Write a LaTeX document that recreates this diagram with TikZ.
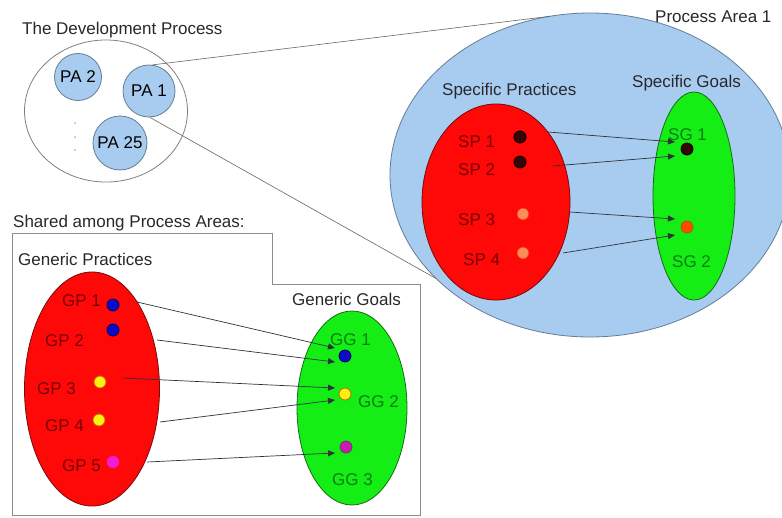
\documentclass[tikz,border=0pt]{standalone}
\usepackage{fontspec}
\setmainfont{Liberation Sans}
\usetikzlibrary{shapes.geometric,arrows.meta,calc}

\definecolor{areablue}{RGB}{168,204,240}
\definecolor{areaedge}{RGB}{100,125,150}
\definecolor{practred}{RGB}{255,8,8}
\definecolor{practedge}{RGB}{120,10,10}
\definecolor{goalgreen}{RGB}{20,238,20}
\definecolor{goaledge}{RGB}{20,110,20}
\definecolor{labred}{RGB}{120,0,0}
\definecolor{labgreen}{RGB}{10,125,20}
\definecolor{titlegray}{RGB}{40,40,45}
\definecolor{framegray}{RGB}{140,140,140}
\definecolor{linkgray}{RGB}{45,50,62}
\definecolor{dotblue}{RGB}{10,10,200}
\definecolor{dotyellow}{RGB}{250,240,20}
\definecolor{dotmagenta}{RGB}{240,30,210}
\definecolor{dotdark}{RGB}{55,5,5}
\definecolor{dotorange}{RGB}{255,140,90}

\begin{document}
\begin{tikzpicture}[x=1pt,y=-1pt,
  font=\fontsize{17}{20}\selectfont,
  title/.style={anchor=base west,inner sep=0pt,text=titlegray},
  redlab/.style={anchor=base west,inner sep=0pt,text=labred},
  greenlab/.style={anchor=base west,inner sep=0pt,text=labgreen},
  blob/.style={ellipse,inner sep=0pt,outer sep=0pt,line width=0.8pt},
  pacircle/.style={circle,inner sep=0pt,draw=areaedge,fill=areablue,line width=0.8pt},
  dot/.style={circle,minimum size=12pt,inner sep=0pt,line width=0.8pt},
  arr/.style={draw=linkgray,line width=0.7pt,-{Triangle[length=7pt,width=6pt]}},
  link/.style={draw=gray!80!black,line width=0.6pt}]
\useasboundingbox (0,0) rectangle (782,517);
\fill[white] (0,0) rectangle (782,517);

% ---- process area detail
\node[blob,draw=areaedge,fill=areablue,minimum width=400pt,minimum height=324pt] (pa) at (590,175) {};
\node[blob,draw=practedge,fill=practred,minimum width=148pt,minimum height=196pt] (sp) at (496,202) {};
\node[blob,draw=goaledge,fill=goalgreen,minimum width=82pt,minimum height=208pt] (sg) at (694,196) {};
\node[title] (tpa) at (655,22) {Process Area 1};
\node[title] (tsp) at (442,95) {Specific Practices};
\node[title] (tsg) at (632,87) {Specific Goals};

\node[dot,draw=black,fill=dotdark] (sp1) at (520,137) {};
\node[dot,draw=black,fill=dotdark] (sp2) at (520,162) {};
\node[dot,draw=practred!70!orange,fill=dotorange] (sp3) at (523,214) {};
\node[dot,draw=practred!70!orange,fill=dotorange] (sp4) at (523,253) {};
\node[dot,draw=black,fill=dotdark] (sg1) at (687,149) {};
\node[dot,draw=orange!70!black,fill=orange!60!red] (sg2) at (687,227) {};

\node[redlab] (lsp1) at (458,147) {SP 1};
\node[redlab] (lsp2) at (458,175) {SP 2};
\node[redlab] (lsp3) at (458,225) {SP 3};
\node[redlab] (lsp4) at (463,265) {SP 4};
\node[greenlab] (lsg1) at (668,140) {SG 1};
\node[greenlab] (lsg2) at (672,267) {SG 2};

\draw[arr] ($(sp1)+(28,-5)$) -- ($(sg1)+(-12,-7)$);
\draw[arr] ($(sp2)+(33,4)$) -- ($(sg1)+(-12,7)$);
\draw[arr] ($(sp3)+(47,-2)$) -- ($(sg2)+(-12,-8)$);
\draw[arr] ($(sp4)+(40,0)$) -- ($(sg2)+(-12,8)$);

% ---- the development process
\node[title] (tdev) at (22,34) {The Development Process};
\node[blob,draw=gray,fill=white,minimum width=163pt,minimum height=142pt] (dev) at (106,111) {};
\node[pacircle,minimum size=47pt] (pa2) at (78,77) {PA 2};
\node[pacircle,minimum size=52pt] (pa1) at (149,91) {PA 1};
\node[pacircle,minimum size=54pt] (pa25) at (120,143) {PA 25};
\foreach \yy in {123,137,150} \fill[gray!60] (75,\yy) circle (1pt);
\draw[link] (pa1.82) -- (pa.104);
\draw[link] (pa1.-88) -- (pa.214);

% ---- shared generic part
\node[title] (tshared) at (13,227) {Shared among Process Areas:};
\draw[framegray,line width=1pt] (12,233) -- (272,233) -- (272,284) -- (420,284) -- (420,515) -- (12,515) -- cycle;
\node[title] (tgp) at (18,265) {Generic Practices};
\node[title] (tgg) at (292,305) {Generic Goals};
\node[blob,draw=practedge,fill=practred,minimum width=135pt,minimum height=234pt] (gp) at (92,389) {};
\node[blob,draw=goaledge,fill=goalgreen,minimum width=110pt,minimum height=194pt] (gg) at (352,408) {};

\node[dot,draw=blue!40!black,fill=dotblue] (gp1) at (113,305) {};
\node[dot,draw=blue!40!black,fill=dotblue] (gp2) at (113,330) {};
\node[dot,draw=orange!80!black,fill=dotyellow] (gp3) at (100,382) {};
\node[dot,draw=orange!80!black,fill=dotyellow] (gp4) at (99,420) {};
\node[dot,draw=dotmagenta!80!red,fill=dotmagenta] (gp5) at (113,462) {};
\node[dot,draw=blue!40!black,fill=dotblue] (gg1) at (345,356) {};
\node[dot,draw=orange!80!black,fill=dotyellow] (gg2) at (345,394) {};
\node[dot,draw=black!70!magenta,fill=dotmagenta!85!black] (gg3) at (346,447) {};

\node[redlab] (lgp1) at (62,306) {GP 1};
\node[redlab] (lgp2) at (45,346) {GP 2};
\node[redlab] (lgp3) at (37,394) {GP 3};
\node[redlab] (lgp4) at (45,431) {GP 4};
\node[redlab] (lgp5) at (62,471) {GP 5};
\node[greenlab] (lgg1) at (330,345) {GG 1};
\node[greenlab] (lgg2) at (358,407) {GG 2};
\node[greenlab] (lgg3) at (332,485) {GG 3};

\draw[arr] ($(gp1)+(24,-3)$) -- ($(gg1)+(-10,-8)$);
\draw[arr] ($(gp2)+(44,10)$) -- ($(gg1)+(-10,6)$);
\draw[arr] ($(gp3)+(23,-4)$) -- ($(gg2)+(-10,-6)$);
\draw[arr] ($(gp4)+(61,2)$) -- ($(gg2)+(-10,6)$);
\draw[arr] ($(gp5)+(34,0)$) -- ($(gg3)+(-11,6)$);
\end{tikzpicture}
\end{document}
